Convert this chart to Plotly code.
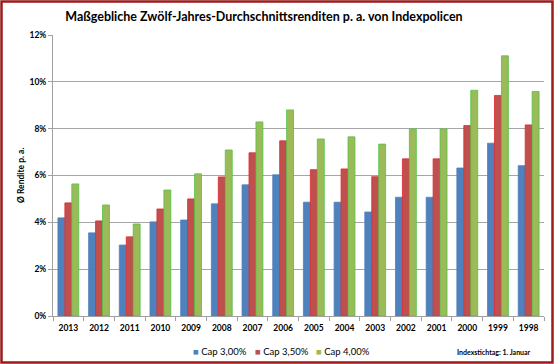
import plotly.graph_objects as go

years = ["2013", "2012", "2011", "2010", "2009", "2008", "2007", "2006",
         "2005", "2004", "2003", "2002", "2001", "2000", "1999", "1998"]
cap300 = [4.19, 3.55, 3.03, 4.02, 4.10, 4.79, 5.60, 6.03,
          4.86, 4.86, 4.44, 5.07, 5.07, 6.32, 7.38, 6.42]
cap350 = [4.83, 4.06, 3.38, 4.57, 5.00, 5.94, 6.97, 7.48,
          6.25, 6.28, 5.95, 6.71, 6.71, 8.13, 9.42, 8.16]
cap400 = [5.64, 4.74, 3.93, 5.38, 6.07, 7.09, 8.29, 8.80,
          7.56, 7.65, 7.34, 7.99, 7.99, 9.64, 11.11, 9.59]
series_names = ["Cap 3,00%", "Cap 3,50%", "Cap 4,00%"]
y_ticks = [0, 2, 4, 6, 8, 10, 12]
y_tick_labels = ["0%", "2%", "4%", "6%", "8%", "10%", "12%"]

colors = ["#4F81BD", "#C0504D", "#9BBB59"]
edge = ["#4F81BD", "#E0282E", "#52C049"]

FONT = "Lato"
W, H = 554, 364
ML, MR, MT, MB = 53, 10, 35, 48

fig = go.Figure()
for name, vals, c, e in zip(series_names, [cap300, cap350, cap400], colors, edge):
    fig.add_trace(go.Bar(x=years, y=vals, name=name, showlegend=False,
                         marker=dict(color=c, line=dict(color=e, width=0.8))))

pw = W - ML - MR
ph = H - MT - MB
fig.add_shape(type="rect", xref="paper", yref="paper",
              x0=-ML / pw + 1.5 / pw, x1=1 + MR / pw - 1.5 / pw,
              y0=-MB / ph + 1.5 / ph, y1=1 + MT / ph - 1.5 / ph,
              line=dict(color="#9B1B1B", width=2.5), layer="above")

# legend drawn as text entries (coloured square + label)
legend_x = [191, 253, 314]
annotations = []
for name, c, lx in zip(series_names, colors, legend_x):
    annotations.append(dict(
        text=f'<span style="color:{c}">■</span> {name}',
        xref="paper", yref="paper", x=(lx - ML) / pw, xanchor="left",
        y=-(351 - (H - MB)) / ph, yanchor="middle", showarrow=False,
        font=dict(size=9.5, family=FONT, color="#000000")))
annotations.append(dict(
    text="<b>Indexstichtag: 1. Januar</b>", xref="paper", yref="paper",
    x=(533 - ML) / pw, xanchor="right", y=-(352 - (H - MB)) / ph, yanchor="middle",
    showarrow=False, font=dict(size=7, family=FONT)))
annotations.append(dict(
    text="<b>Ø Rendite p. a.</b>", xref="paper", yref="paper",
    x=(21 - ML) / pw, xanchor="center", y=(H - MB - 176) / ph, yanchor="middle",
    textangle=-90, showarrow=False, font=dict(size=8.5, family=FONT)))

fig.update_layout(
    width=W, height=H,
    margin=dict(l=ML, r=MR, t=MT, b=MB, autoexpand=False),
    paper_bgcolor="white", plot_bgcolor="white",
    barmode="group", bargap=0.32, bargroupgap=0,
    font=dict(family=FONT, color="#000000"),
    showlegend=False,
    title=dict(text="<b>Maßgebliche Zwölf-Jahres-Durchschnittsrenditen p. a. von Indexpolicen</b>",
               x=(264 / W), xref="container", xanchor="center",
               y=1 - 17 / H, yref="container", yanchor="middle",
               font=dict(size=12.5, family=FONT, color="#000000")),
    xaxis=dict(showline=True, linecolor="#A0A0A0", linewidth=1,
               ticks="outside", tickson="boundaries", ticklen=4, tickcolor="#A0A0A0",
               tickfont=dict(size=8.5, family=FONT, weight="bold"),
               ticklabelstandoff=4,
               showgrid=False, fixedrange=True),
    yaxis=dict(range=[0, 12], tickvals=y_ticks, ticktext=y_tick_labels,
               showline=True, linecolor="#A0A0A0", linewidth=1,
               ticks="outside", ticklen=4, tickcolor="#A0A0A0",
               showgrid=True, gridcolor="#A6A6A6", gridwidth=1,
               tickfont=dict(size=8.5, family=FONT, weight="bold"),
               zeroline=False, fixedrange=True),
    annotations=annotations,
)

fig.write_html("out.html", config={"displayModeBar": False},
               post_script="document.body.style.margin='0';document.body.style.overflow='hidden';")
